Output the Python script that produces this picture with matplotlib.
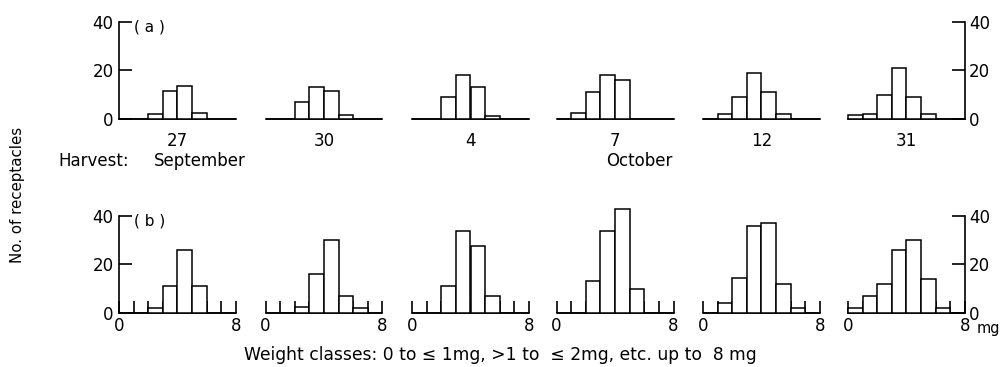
import matplotlib.pyplot as plt
import numpy as np

# number of receptacles per 1 mg weight class (0-1, 1-2, ... 7-8 mg)
dates = ["27", "30", "4", "7", "12", "31"]
counts_a = [
    [0, 0, 2, 11.5, 13.5, 2.5, 0, 0],
    [0, 0, 7, 13, 11.5, 1.5, 0, 0],
    [0, 0, 9, 18, 13, 1.3, 0, 0],
    [0, 2.3, 11, 18, 16, 0, 0, 0],
    [0, 2, 9, 19, 11, 2, 0, 0],
    [1.5, 2, 10, 21, 9, 2, 0, 0],
]
counts_b = [
    [0, 0, 2, 11, 26, 11, 0, 0],
    [0, 0, 2.5, 16, 30, 7, 2, 0],
    [0, 0, 11, 34, 27.5, 7, 0, 0],
    [0, 0, 13, 34, 43, 10, 0, 0],
    [0, 4, 14.5, 36, 37, 12, 2, 0],
    [2, 7, 12, 26, 30, 14, 2, 0],
]
bins = np.arange(8)

W, H = 1003, 367
fig = plt.figure(figsize=(W / 100, H / 100), dpi=100)
plt.rcParams['font.family'] = ['DejaVu Sans']
fs = 12

lefts = [119, 265.5, 412, 556.5, 703, 848]
pw = 117
rows = [(119, 97.3), (312.7, 96.7)]  # baseline px from top, height of 0..40


def make_ax(left, base, h):
    return fig.add_axes([left / W, (H - base) / H, pw / W, h / H])


for r, (base, h) in enumerate(rows):
    data = counts_a if r == 0 else counts_b
    for i in range(6):
        ax = make_ax(lefts[i], base, h)
        bars = ax.bar(bins, data[i], width=1, align='edge', color='white',
                      edgecolor='black', linewidth=1.1, zorder=3)
        for b in bars:
            b.set_clip_on(False)
        ax.set_xlim(0, 8)
        ax.set_ylim(0, 40)
        ax.patch.set_alpha(0)
        for s in ['top', 'left', 'right']:
            ax.spines[s].set_visible(False)
        ax.spines['bottom'].set_linewidth(1.2)
        ax.set_yticks([])
        if i == 0:
            ax.spines['left'].set_visible(True)
            ax.spines['left'].set_linewidth(1.2)
            ax.set_yticks([0, 20, 40])
            ax.tick_params(axis='y', direction='in', length=9.5, width=1.2,
                           labelsize=fs, pad=4)
        if i == 5:
            ax.spines['right'].set_visible(True)
            ax.spines['right'].set_linewidth(1.2)
            ax.yaxis.tick_right()
            ax.set_yticks([0, 20, 40])
            ax.tick_params(axis='y', direction='in', length=9.5, width=1.2,
                           labelsize=fs, pad=3)
        if r == 0:
            ax.set_xticks([4])
            ax.set_xticklabels([dates[i]])
            ax.tick_params(axis='x', length=0, labelsize=fs, pad=9)
        else:
            ax.set_xticks(np.arange(9))
            ax.set_xticklabels(['0', '', '', '', '', '', '', '', '8'])
            ax.tick_params(axis='x', direction='in', length=9, width=1.2,
                           labelsize=fs, pad=3)
        if i == 0:
            ax.text(1.05, 38.0, '( a )' if r == 0 else '( b )', fontsize=11,
                    va='center', ha='left')

fig.text(18 / W, 1 - 195 / H, 'No. of receptacles', rotation=90,
         fontsize=10.8, ha='center', va='center')
fig.text(58 / W, 1 - 161 / H, 'Harvest:', fontsize=fs, ha='left', va='center')
fig.text(154 / W, 1 - 161 / H, 'September', fontsize=fs, ha='left', va='center')
fig.text(606 / W, 1 - 161 / H, 'October', fontsize=fs, ha='left', va='center')
fig.text(977 / W, 1 - 329 / H, 'mg', fontsize=10.5, ha='left', va='center')
fig.text(500 / W, 1 - 355 / H,
         'Weight classes: 0 to \u2264 1mg, >1 to  \u2264 2mg, etc. up to  8 mg',
         fontsize=12.3, ha='center', va='center')

fig.savefig('out.png', dpi=100)
